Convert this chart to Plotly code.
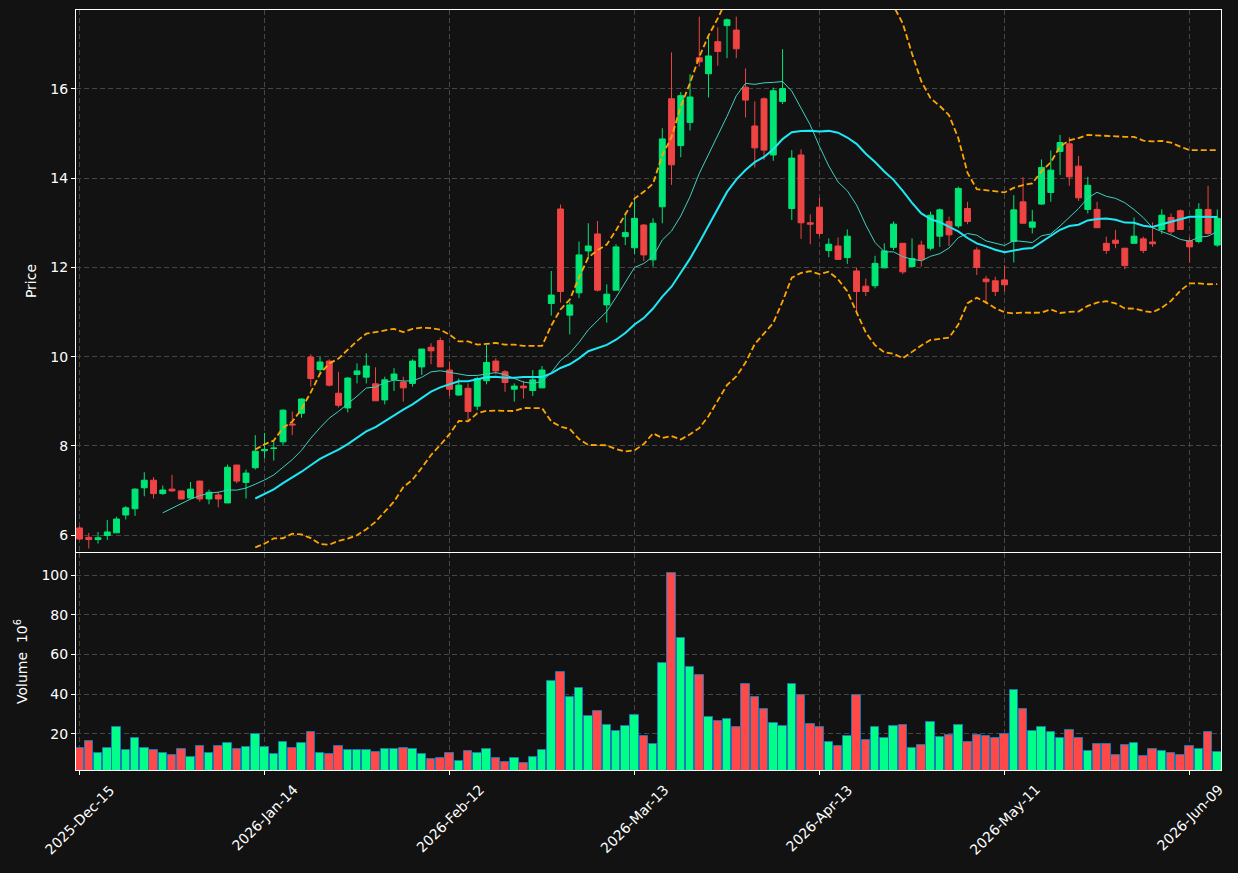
import numpy as np
import pandas as pd
import plotly.graph_objects as go
from plotly.subplots import make_subplots

# ---------------- data ----------------
tick_labels = ["2025-Dec-15", "2026-Jan-14", "2026-Feb-12", "2026-Mar-13",
               "2026-Apr-13", "2026-May-11", "2026-Jun-09"]
tick_positions = [0, 20, 40, 60, 80, 100, 120]

opens = [6.16, 5.95, 5.90, 5.99, 6.05, 6.45, 6.59, 7.06, 7.23, 6.93,
         7.03, 6.99, 6.83, 7.21, 6.81, 6.90, 6.72, 7.57, 7.18, 7.51,
         7.89, 7.94, 8.09, 8.49, 8.73, 9.99, 9.71, 9.90, 9.18, 8.85,
         9.60, 9.54, 9.39, 9.03, 9.49, 9.43, 9.40, 9.77, 10.21, 10.36,
         9.70, 9.14, 9.29, 8.89, 9.46, 9.90, 9.66, 9.27, 9.34, 9.24,
         9.30, 11.19, 13.31, 10.93, 11.43, 12.37, 12.75, 11.16, 11.49, 12.69,
         12.44, 12.95, 12.17, 13.36, 15.78, 14.73, 15.25, 16.70, 16.34, 17.06,
         17.42, 17.32, 16.04, 15.17, 15.78, 14.52, 15.72, 13.32, 14.52, 13.00,
         13.35, 12.38, 12.48, 12.22, 11.92, 11.58, 11.59, 11.99, 12.45, 12.54,
         12.02, 12.50, 12.43, 12.70, 13.03, 12.93, 13.32, 12.39, 11.74, 11.70,
         11.72, 12.58, 13.47, 12.90, 13.42, 13.68, 14.60, 14.77, 14.27, 13.30,
         13.30, 12.54, 12.61, 12.43, 12.54, 12.64, 12.57, 12.85, 13.12, 13.27,
         12.60, 12.58, 13.30, 12.50]
highs = [6.20, 6.05, 6.07, 6.34, 6.41, 6.65, 7.05, 7.41, 7.30, 7.11,
         7.35, 7.00, 7.19, 7.22, 7.02, 6.97, 7.58, 7.57, 7.47, 8.24,
         8.29, 8.12, 8.82, 8.77, 9.06, 10.05, 10.00, 9.94, 9.66, 9.54,
         9.85, 10.07, 9.76, 9.55, 9.74, 9.55, 9.94, 10.17, 10.30, 10.43,
         9.89, 9.51, 9.40, 9.55, 10.26, 9.96, 9.70, 9.40, 9.46, 9.70,
         9.79, 11.92, 13.41, 11.23, 12.58, 12.99, 13.04, 11.62, 12.52, 13.23,
         13.55, 12.97, 13.10, 15.12, 16.82, 15.93, 16.33, 17.62, 17.20, 17.38,
         17.58, 17.62, 16.46, 15.72, 15.81, 16.03, 16.89, 14.63, 14.65, 13.19,
         13.56, 12.65, 12.67, 12.85, 11.99, 11.75, 12.26, 12.54, 13.03, 12.54,
         12.65, 12.60, 13.25, 13.32, 13.14, 13.81, 13.47, 12.45, 11.81, 11.79,
         12.05, 13.62, 14.02, 13.29, 14.42, 14.62, 14.97, 14.92, 14.50, 14.03,
         13.47, 12.69, 12.84, 12.43, 13.12, 12.69, 13.01, 13.30, 13.21, 13.30,
         12.67, 13.44, 13.83, 13.30]
lows = [5.89, 5.70, 5.81, 5.89, 6.05, 6.35, 6.43, 6.87, 6.82, 6.90,
        6.97, 6.80, 6.80, 6.75, 6.69, 6.62, 6.72, 7.16, 6.82, 7.47,
        7.72, 7.67, 8.00, 8.24, 8.63, 9.33, 9.59, 9.33, 8.86, 8.75,
        9.40, 9.40, 9.01, 8.93, 9.23, 8.99, 9.33, 9.59, 9.83, 9.77,
        9.12, 9.12, 8.58, 8.80, 9.38, 9.60, 9.21, 8.99, 9.06, 9.12,
        9.29, 10.92, 11.21, 10.50, 11.31, 12.20, 11.46, 10.76, 11.49, 12.50,
        12.30, 12.14, 12.02, 12.99, 13.85, 14.47, 15.07, 16.50, 15.81, 16.52,
        16.69, 16.69, 15.36, 14.24, 14.41, 14.39, 15.66, 13.06, 12.64, 12.52,
        12.70, 12.23, 12.17, 12.08, 10.96, 11.36, 11.53, 11.98, 12.39, 11.85,
        12.02, 12.02, 12.38, 12.46, 12.48, 12.88, 12.97, 11.83, 11.18, 11.36,
        11.46, 12.11, 12.99, 12.76, 13.40, 13.47, 14.07, 13.83, 13.49, 13.21,
        12.89, 12.30, 12.43, 11.96, 12.54, 12.32, 12.46, 12.75, 12.75, 12.84,
        12.11, 12.54, 12.73, 12.46]
closes = [5.91, 5.90, 5.94, 6.07, 6.36, 6.61, 7.03, 7.23, 6.93, 7.01,
          6.99, 6.81, 7.03, 6.81, 6.96, 6.81, 7.52, 7.21, 7.39, 7.88,
          7.92, 7.95, 8.80, 8.47, 9.05, 9.51, 9.88, 9.36, 8.91, 9.52,
          9.68, 9.79, 9.01, 9.48, 9.61, 9.30, 9.90, 10.17, 10.13, 9.77,
          9.27, 9.36, 8.77, 9.51, 9.87, 9.68, 9.42, 9.34, 9.30, 9.48,
          9.70, 11.38, 11.46, 11.16, 12.28, 12.48, 11.49, 11.40, 12.46, 12.78,
          13.10, 12.28, 12.99, 14.88, 14.30, 15.85, 15.82, 16.61, 16.74, 16.84,
          17.55, 16.90, 15.75, 14.68, 14.63, 15.96, 16.01, 14.45, 13.00, 12.97,
          12.76, 12.52, 12.18, 12.70, 11.46, 11.46, 12.09, 12.37, 12.97, 11.90,
          12.20, 12.17, 13.17, 13.29, 12.73, 13.77, 13.03, 12.00, 11.68, 11.46,
          11.61, 13.29, 12.99, 13.02, 14.24, 14.18, 14.80, 14.03, 13.56, 13.84,
          12.89, 12.38, 12.54, 12.04, 12.70, 12.38, 12.53, 13.17, 12.80, 12.85,
          12.46, 13.30, 12.76, 13.10]
volumes = [12.8, 16.4, 10.3, 12.8, 23.4, 11.8, 17.9, 12.8, 11.8, 10.3,
           9.3, 12.3, 8.3, 13.8, 10.3, 13.8, 15.4, 12.3, 13.3, 20.0,
           13.3, 9.8, 15.9, 12.8, 15.4, 20.9, 10.3, 9.8, 13.8, 11.8,
           11.8, 11.8, 10.8, 12.3, 12.3, 12.8, 12.3, 9.8, 7.2, 7.7,
           10.3, 6.2, 11.3, 10.3, 12.3, 7.7, 5.7, 7.7, 5.2, 8.3,
           11.8, 46.7, 51.2, 38.6, 43.1, 29.0, 31.5, 24.5, 21.4, 24.0,
           29.5, 18.9, 14.9, 55.7, 101.0, 68.3, 53.7, 49.6, 28.5, 26.5,
           27.5, 23.4, 45.1, 38.6, 32.5, 25.5, 24.0, 45.1, 39.5, 25.0,
           23.4, 15.9, 13.8, 18.9, 39.5, 16.9, 23.4, 17.9, 24.0, 24.5,
           12.8, 14.3, 26.0, 18.4, 19.4, 24.5, 15.9, 19.4, 18.9, 17.9,
           19.9, 42.1, 32.5, 21.4, 23.4, 20.9, 17.9, 21.9, 17.9, 11.3,
           14.9, 14.9, 9.3, 14.3, 15.4, 8.8, 12.3, 11.3, 10.3, 9.3,
           13.8, 12.3, 20.9, 10.8]

# ---------------- derived series ----------------
idx = list(range(len(closes)))
close_s = pd.Series(closes)
mav10 = close_s.rolling(10).mean()
mav20 = close_s.rolling(20).mean()
std20 = close_s.rolling(20).std()
bb_upper = mav20 + 2 * std20
bb_lower = mav20 - 2 * std20

BG = "#121212"
UP = "#00e676"
DOWN = "#ef4444"
VUP = "#00ff88"
VDOWN = "#ff4848"
GRID = "#464646"
FONT = dict(color="white", size=14, family="DejaVu Sans")

vol_colors = [VUP if c >= o else VDOWN for o, c in zip(opens, closes)]

fig = make_subplots(rows=2, cols=1, shared_xaxes=True, vertical_spacing=0.0)

fig.add_trace(go.Candlestick(
    x=idx, open=opens, high=highs, low=lows, close=closes,
    increasing=dict(line=dict(color=UP, width=1), fillcolor=UP),
    decreasing=dict(line=dict(color=DOWN, width=1), fillcolor=DOWN),
    whiskerwidth=0, showlegend=False, name="OHLC"), row=1, col=1)

fig.add_trace(go.Scatter(x=idx, y=mav10, mode="lines",
                         line=dict(color="#3fd0c0", width=1), showlegend=False), row=1, col=1)
fig.add_trace(go.Scatter(x=idx, y=mav20, mode="lines",
                         line=dict(color="#1ee8f5", width=2), showlegend=False), row=1, col=1)
fig.add_trace(go.Scatter(x=idx, y=bb_upper, mode="lines",
                         line=dict(color="#ffa500", width=1.8, dash="6px,3px"), showlegend=False), row=1, col=1)
fig.add_trace(go.Scatter(x=idx, y=bb_lower, mode="lines",
                         line=dict(color="#ffa500", width=1.8, dash="6px,3px"), showlegend=False), row=1, col=1)

fig.add_trace(go.Bar(x=idx, y=volumes, width=0.92,
                     marker=dict(color=vol_colors, line=dict(color="#1f77b4", width=1)),
                     showlegend=False), row=2, col=1)

axis_common = dict(showline=True, linecolor="white", linewidth=1, mirror=True,
                   showgrid=True, gridcolor=GRID, gridwidth=1, griddash="5px,3px",
                   zeroline=False, ticks="outside", tickcolor="white", ticklen=4,
                   tickfont=FONT)

fig.update_xaxes(**axis_common)
fig.update_xaxes(range=[-0.38, 123.4], tickmode="array", tickvals=tick_positions,
                 ticktext=tick_labels, showticklabels=False,
                 rangeslider=dict(visible=False))
fig.update_xaxes(ticks="", row=1, col=1)

fig.update_yaxes(**axis_common)
fig.update_yaxes(range=[5.62, 17.77], tickvals=[6, 8, 10, 12, 14, 16],
                 domain=[0.2868, 1.0],
                 title=dict(text="Price", font=FONT, standoff=10), row=1, col=1)
fig.update_yaxes(range=[1.8, 111.1], tickvals=[20, 40, 60, 80, 100],
                 domain=[0.0, 0.2855],
                 title=dict(text="Volume  10<sup>6</sup>", font=FONT, standoff=10),
                 row=2, col=1)

# rotated date labels, centred under their ticks (as matplotlib draws them)
for pos, lab in zip(tick_positions, tick_labels):
    fig.add_annotation(x=pos, y=0, xref="x2", yref="paper", text=lab,
                       textangle=-45, showarrow=False, font=FONT,
                       xanchor="center", yanchor="top", yshift=-9)

fig.update_layout(
    width=1238, height=873,
    paper_bgcolor=BG, plot_bgcolor=BG,
    margin=dict(l=76, r=17, t=10, b=103),
    boxgap=0.25, boxgroupgap=0.15, bargap=0.0,
    font=FONT,
    showlegend=False,
)

fig.write_html("out.html")
